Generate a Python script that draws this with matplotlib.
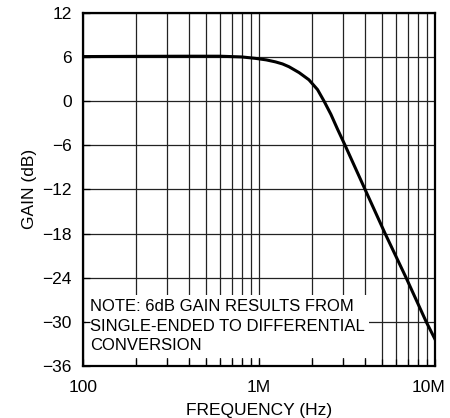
import matplotlib
matplotlib.use("Agg")
import matplotlib.pyplot as plt
import matplotlib.transforms as mtransforms
from matplotlib.ticker import LogLocator, FixedLocator, FixedFormatter, NullFormatter
from matplotlib import font_manager

# ---- data ----
freq_hz = [1e5, 2e5, 4e5, 6e5, 8e5, 0.96e6, 1.1e6, 1.24e6, 1.36e6, 1.48e6, 1.69e6,
           1.92e6, 2.15e6, 2.34e6, 2.56e6, 2.79e6, 3.08e6, 4.0e6, 5.2e6,
           6.84e6, 8.9e6, 1e7]
gain_db = [6.05, 6.08, 6.1, 6.1, 6.0, 5.8, 5.6, 5.33, 5.05, 4.67, 3.87,
           2.9, 1.56, 0.0, -1.8, -3.8, -6.0, -12.0, -18.0,
           -24.0, -30.0, -32.4]
x_ticks = [1e5, 1e6, 1e7]
x_tick_labels = ["100", "1M", "10M"]
y_ticks = [12, 6, 0, -6, -12, -18, -24, -30, -36]
note = "NOTE: 6dB GAIN RESULTS FROM\nSINGLE-ENDED TO DIFFERENTIAL\nCONVERSION"

names = {f.name for f in font_manager.fontManager.ttflist}
fam = ["Liberation Sans Narrow"] if "Liberation Sans Narrow" in names else []
plt.rcParams["font.family"] = fam + ["Liberation Sans", "DejaVu Sans"]
plt.rcParams["font.size"] = 12

fig = plt.figure(figsize=(4.5, 4.18), dpi=100)
pos = [0.184, 0.1244, 0.783, 0.845]
ax = fig.add_axes(pos)
ax.set_xscale("log")
ax.set_xlim(1e5, 1e7)
ax.set_ylim(-36, 12)
ax.set_axisbelow(True)

ax.xaxis.set_major_locator(FixedLocator(x_ticks))
ax.xaxis.set_major_formatter(FixedFormatter(x_tick_labels))
ax.xaxis.set_minor_locator(LogLocator(base=10, subs=range(2, 10)))
ax.xaxis.set_minor_formatter(NullFormatter())
ax.set_yticks(y_ticks)
ax.set_yticklabels([str(v).replace("-", "\u2212") for v in y_ticks])

ax.grid(True, which="both", color="#222222", linewidth=0.9)
ax.tick_params(which="both", length=0, pad=8, labelsize=12.5)
ax.tick_params(axis="x", pad=10)

for s in ax.spines.values():
    s.set_linewidth(1.6)
    s.set_zorder(5)

ax.plot(freq_hz, gain_db, color="black", linewidth=2.2, zorder=4,
        solid_joinstyle="round")

ax.text(0.02, 0.19, note, transform=ax.transAxes, ha="left", va="top",
        fontsize=12, linespacing=1.4, zorder=2,
        bbox=dict(boxstyle="square,pad=0.25", facecolor="white", edgecolor="none"))

# overlay for inward tick marks above the note box
axt = fig.add_axes(pos, sharex=ax, sharey=ax)
axt.patch.set_visible(False)
axt.tick_params(which="both", direction="in", length=5, width=0.9,
                labelbottom=False, labelleft=False)
axt.tick_params(which="both", top=False, right=False)
for s in axt.spines.values():
    s.set_visible(False)
axt.set_zorder(ax.get_zorder() + 1)

ax.set_xlabel("FREQUENCY (Hz)", fontsize=12.5, labelpad=6)
ax.set_ylabel("GAIN (dB)", fontsize=12.5, labelpad=4)

# nudge the last x tick label left so it stays inside the figure
fig.canvas.draw()
last = ax.get_xticklabels()[-1]
last.set_transform(last.get_transform() +
                   mtransforms.ScaledTranslation(-7 / 100, 0, fig.dpi_scale_trans))

fig.savefig("out.png", dpi=100)
